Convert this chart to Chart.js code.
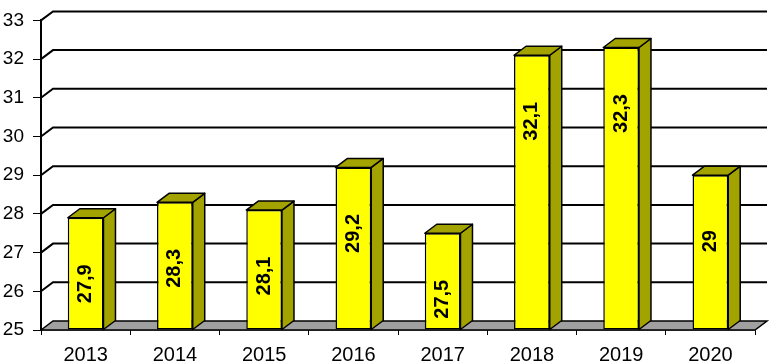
<!DOCTYPE html>
<html>
<head>
<meta charset="utf-8">
<script src="https://cdn.jsdelivr.net/npm/chart.js@4.4.0/dist/chart.umd.min.js"></script>
<style>
  html, body { margin: 0; padding: 0; background: #fff; }
  #wrap { width: 773px; height: 362px; }
</style>
</head>
<body>
<div id="wrap"><canvas id="grafico"></canvas></div>
<script>
// dados
var anos = ["2013", "2014", "2015", "2016", "2017", "2018", "2019", "2020"];
var valores = [27.9, 28.3, 28.1, 29.2, 27.5, 32.1, 32.3, 29];
var yMin = 25;
var yMax = 33;

// profundidade do efeito 3D
var DX = 12;
var DY = -9;
var FONTE = "'Liberation Sans', Arial, sans-serif";

function poligono(ctx, pts, fill) {
    ctx.beginPath();
    ctx.moveTo(pts[0][0], pts[0][1]);
    for (var i = 1; i < pts.length; i++) ctx.lineTo(pts[i][0], pts[i][1]);
    ctx.closePath();
    ctx.fillStyle = fill;
    ctx.fill();
    ctx.stroke();
}

var plugin3D = {
    id: "efeito3d",
    beforeDatasetsDraw: function (chart) {
        var ctx = chart.ctx;
        var area = chart.chartArea;
        var y = chart.scales.y;
        ctx.save();
        // linhas de grade no plano de fundo
        ctx.strokeStyle = "#000";
        ctx.lineWidth = 2;
        y.ticks.forEach(function (t) {
            if (t.value == yMin) return;
            var py = y.getPixelForValue(t.value);
            ctx.beginPath();
            ctx.moveTo(area.left, py);
            ctx.lineTo(area.left + DX, py + DY);
            ctx.lineTo(area.right + DX, py + DY);
            ctx.stroke();
        });
        // piso
        ctx.lineWidth = 1.5;
        var b = y.getPixelForValue(yMin);
        poligono(ctx, [[area.left, b], [area.left + DX, b + DY], [area.right + DX, b + DY], [area.right, b]], "#a0a0a0");
        ctx.restore();
    },
    afterDatasetsDraw: function (chart) {
        var ctx = chart.ctx;
        var meta = chart.getDatasetMeta(0);
        ctx.save();
        ctx.strokeStyle = "#000";
        ctx.lineWidth = 1.5;
        ctx.lineJoin = "round";
        meta.data.forEach(function (bar, i) {
            var l = bar.x - bar.width / 2;
            var r = bar.x + bar.width / 2;
            var top = bar.y;
            var base = bar.base;
            // lateral
            poligono(ctx, [[r, top], [r + DX, top + DY], [r + DX, base + DY], [r, base]], "#a3a300");
            // topo
            poligono(ctx, [[l, top], [l + DX, top + DY], [r + DX, top + DY], [r, top]], "#a3a300");

            // rotulo
            var texto = String(valores[i]).replace(".", ",");
            ctx.save();
            ctx.translate(bar.x, top + 66);
            ctx.rotate(-Math.PI / 2);
            ctx.fillStyle = "#000";
            ctx.font = "bold 20px " + FONTE;
            ctx.textAlign = "center";
            ctx.textBaseline = "middle";
            ctx.fillText(texto, 0, 0);
            ctx.restore();
        });
        ctx.restore();
    }
};

new Chart(document.getElementById("grafico"), {
    type: "bar",
    data: {
        labels: anos,
        datasets: [{
            data: valores,
            base: yMin,
            backgroundColor: "#ffff00",
            borderColor: "#000",
            borderWidth: 1.5,
            borderSkipped: false,
            categoryPercentage: 1,
            barPercentage: 0.4
        }]
    },
    options: {
        responsive: true,
        maintainAspectRatio: false,
        animation: false,
        layout: { padding: { top: 15, right: 18, left: 0, bottom: 0 } },
        plugins: {
            legend: { display: false },
            tooltip: { enabled: false }
        },
        scales: {
            x: {
                grid: { display: true, drawOnChartArea: false, drawTicks: true, tickLength: 5, color: "#000", lineWidth: 1 },
                border: { display: true, color: "#000", width: 1.5 },
                ticks: { color: "#000", font: { family: FONTE, size: 20 }, padding: 8, maxRotation: 0 },
                afterFit: function (s) { s.height = 32; }
            },
            y: {
                min: yMin,
                max: yMax,
                grid: { display: true, drawOnChartArea: false, drawTicks: true, tickLength: 8, color: "#000", lineWidth: 1 },
                border: { display: true, color: "#000", width: 2 },
                ticks: { stepSize: 1, color: "#000", font: { family: FONTE, size: 19 }, padding: 9 },
                afterFit: function (s) { s.width = 41; }
            }
        }
    },
    plugins: [plugin3D]
});
</script>
</body>
</html>
